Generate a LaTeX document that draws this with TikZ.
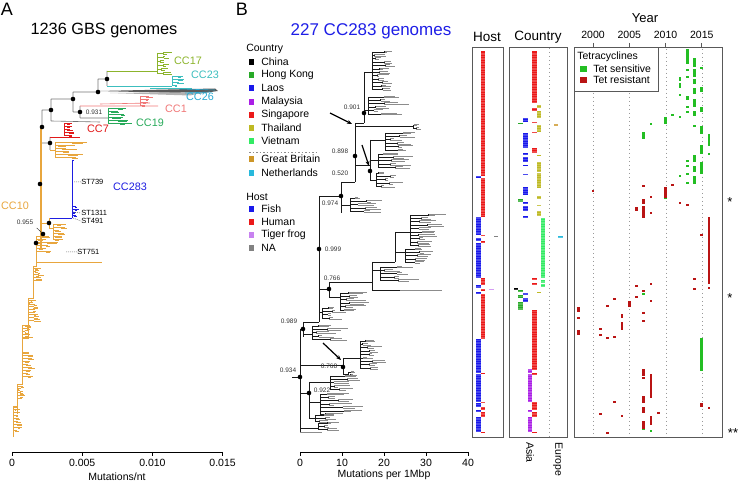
\documentclass[tikz,border=0pt]{standalone}
\usepackage{fontspec}
\setmainfont{Liberation Sans}
\usepackage{tikz}
\usetikzlibrary{arrows.meta}

\definecolor{cc10c}{RGB}{232,166,62}
\definecolor{cc17c}{RGB}{140,180,44}
\definecolor{cc23c}{RGB}{60,190,190}
\definecolor{cc26c}{RGB}{40,170,210}
\definecolor{cc1c}{RGB}{240,120,120}
\definecolor{cc19c}{RGB}{40,170,90}
\definecolor{cc7c}{RGB}{225,25,25}
\definecolor{cc283c}{RGB}{30,30,225}
\definecolor{titblue}{RGB}{30,30,230}
\definecolor{cChina}{RGB}{0,0,0}
\definecolor{cHK}{RGB}{40,170,40}
\definecolor{cLaos}{RGB}{25,25,235}
\definecolor{cMal}{RGB}{170,30,230}
\definecolor{cSin}{RGB}{235,25,25}
\definecolor{cTha}{RGB}{190,185,35}
\definecolor{cVie}{RGB}{50,235,100}
\definecolor{cGB}{RGB}{205,150,40}
\definecolor{cNL}{RGB}{40,185,220}
\definecolor{cFrog}{RGB}{200,130,240}
\definecolor{cNA}{RGB}{130,130,130}
\definecolor{tetS}{RGB}{35,190,35}
\definecolor{tetR}{RGB}{185,20,20}

\tikzset{
  trA/.style={black!55,line width=0.6pt},
  trB/.style={black!90,line width=0.6pt},
  tipB/.style={black!45,line width=0.6pt},
  ndot/.style={circle,fill=black,inner sep=0pt,minimum size=4.6pt},
  bsl/.style={font=\fontsize{6.5}{7}\selectfont,text=black!80},
  stlab/.style={font=\fontsize{7.5}{8}\selectfont,anchor=west,inner sep=0pt},
  cclab/.style={font=\fontsize{10.8}{12}\selectfont},
  lgtext/.style={anchor=west,inner sep=0pt},
  pbox/.style={draw=black!65,line width=0.8pt},
  ydot/.style={black!40,line width=0.6pt,dash pattern=on 0.8pt off 3.2pt},
  leader/.style={black!60,line width=0.5pt,dash pattern=on 1pt off 1pt}
}

% x, top, pairs, length, spacing, inner style, tip style
\newcommand{\tuft}[7]{%
  \draw[#6] (#1,{#2+0.5*#5}) -- (#1,{#2+(2*#3-1.5)*#5});
  \foreach \k in {1,...,#3}{%
    \pgfmathsetmacro{\ty}{#2+(2*\k-1.5)*#5}%
    \pgfmathsetmacro{\ta}{#1+(0.1+0.45*rnd)*#4}%
    \pgfmathsetmacro{\tb}{\ta+(0.1+0.45*rnd)*#4}%
    \pgfmathsetmacro{\tc}{\ta+(0.1+0.45*rnd)*#4}%
    \draw[#6] (#1,\ty) -- (\ta,\ty) (\ta,\ty-0.5*#5) -- (\ta,\ty+0.5*#5);
    \draw[#7] (\ta,\ty-0.5*#5) -- (\tb,\ty-0.5*#5) (\ta,\ty+0.5*#5) -- (\tc,\ty+0.5*#5);
  }}

\begin{document}
\begin{tikzpicture}[x=1pt,y=-1pt,line width=0.6pt,font=\fontsize{10.5}{12}\selectfont]
\useasboundingbox (0,0) rectangle (740,486);
\pgfmathsetseed{11}

%% ---------- panel A
\node (labA) at (7,9) {\fontsize{18}{18}\selectfont A};
\node (titA) at (104,31) {\fontsize{16.3}{18}\selectfont 1236 GBS genomes};

\draw[trA] (107,71) -- (107,86) (98,79) -- (107,79) (98,79) -- (98,92) (73,92) -- (98,92)
  (73,92) -- (73,112) (73,112) -- (80,112) (80,106) -- (80,118) (80,118) -- (108,118)
  (51,99) -- (73,99) (51,99) -- (51,121) (51,121) -- (100,122) (42,110) -- (51,110)
  (42,110) -- (42,127) (42,143) -- (50,143) (50,137) -- (50,150);
\draw[cc10c,line width=1.1pt] (41,127) -- (41,248);
\draw[cc17c] (107,71) -- (157,71);
\tuft{157}{52}{6}{16}{2}{cc17c}{cc17c}
\draw[cc23c] (107,86) -- (172,86) (150,88) -- (192,88);
\tuft{172}{76}{4}{14}{1.5}{cc23c}{cc23c}
\fill[black!65] (98,91) -- (215,88.5) -- (218,91) -- (200,93.5) -- cycle;
\fill[black!30] (110,93) -- (205,92) -- (190,95.5) -- cycle;
\draw[cc26c] (180,89) -- (215,90) (185,93) -- (210,92);
\draw[cc1c] (80,106) -- (158,106) (100,104) -- (150,103);
\tuft{140}{96}{4}{16}{1.5}{cc1c}{cc1c}
\tuft{108}{108}{6}{26}{1.5}{cc19c}{cc19c}
\draw[cc7c] (50,137) -- (80,137);
\tuft{64}{123}{5}{14}{1.5}{cc7c}{cc7c}
\draw[cc10c] (50,150) -- (55,150);
\tuft{55}{142}{6}{34}{1.5}{cc10c}{cc10c}
\draw[cc283c] (49,218) -- (72,218) (72,160) -- (72,218) (72,160) -- (74,160);
\tuft{72}{206}{4}{8}{1.5}{cc283c}{cc283c}
\draw[cc10c] (41,223) -- (49,223) (49,218) -- (49,228) (49,228) -- (53,228) (41,234) -- (45,234);
\tuft{53}{224}{6}{16}{1.5}{cc10c}{cc10c}
\draw[cc10c] (36,238) -- (36,266) -- (33,266) -- (33,298) -- (28,298) -- (28,338) -- (22,338)
  -- (22,384) -- (17,384) -- (17,412) -- (13,412) -- (13,437) (36,243) -- (41,243) (36,262) -- (102,262);
\tuft{36}{236}{6}{20}{1.5}{cc10c}{cc10c}
\tuft{33}{268}{5}{12}{1.4}{cc10c}{cc10c}
\tuft{28}{300}{8}{13}{1.4}{cc10c}{cc10c}
\tuft{22}{325}{5}{13}{1.4}{cc10c}{cc10c}
\tuft{22}{352}{9}{12}{1.5}{cc10c}{cc10c}
\tuft{17}{386}{5}{9}{1.4}{cc10c}{cc10c}
\tuft{13}{406}{9}{10}{1.5}{cc10c}{cc10c}

\foreach \px/\py [count=\i] in {107/79,98/92,73/99,51/110,80/112,42/127,50/143,40/184,49/223,43/234,36/243}
  \node[ndot] (na\i) at (\px,\py) {};
\node[bsl] (s931) at (94,112) {0.931};
\node[bsl] (s955) at (25,222) {0.955};
\draw[black!80,line width=0.5pt] (s955.south east) -- (na10);

\node[cclab,text=cc17c] (l17) at (188,61) {CC17};
\node[cclab,text=cc23c] (l23) at (205,75) {CC23};
\node[cclab,text=cc26c] (l26) at (200,97) {CC26};
\node[cclab,text=cc1c] (l1) at (176,109) {CC1};
\node[cclab,text=cc19c] (l19) at (150,123) {CC19};
\node[cclab,text=cc7c] (l7) at (98,129) {CC7};
\node[cclab,text=cc283c] (l283) at (130,187) {CC283};
\node[cclab,text=cc10c] (l10) at (15,206) {CC10};
\node[stlab] (st739) at (81,182) {ST739};
\node[stlab] (st1311) at (81,213) {ST1311};
\node[stlab] (st491) at (81,221) {ST491};
\node[stlab] (st751) at (77,252) {ST751};
\draw[leader] (74,182) -- (st739.west) (73,212) -- (st1311.west) (73,218) -- (st491.west) (66,252) -- (st751.west);

\draw[line width=0.8pt] (12,452) -- (223,452);
\foreach \tx/\tl [count=\i] in {12/0,82.2/0.005,152.4/0.010,222.6/0.015}{
  \draw[line width=0.8pt] (\tx,452) -- (\tx,456);
  \node (ta\i) at (\tx,463) {\tl};
}
\node (axA) at (117,477) {Mutations/nt};

%% ---------- panel B
\node (labB) at (242,9) {\fontsize{18}{18}\selectfont B};
\node[text=titblue] (titB) at (371,31) {\fontsize{17}{18}\selectfont 227 CC283 genomes};

\node[lgtext] (lgC) at (246,49) {Country};
\foreach \c/\t/\yy [count=\i] in {cChina/China/62,cHK/Hong Kong/75,cLaos/Laos/88,cMal/Malaysia/102,
    cSin/Singapore/115,cTha/Thailand/128,cVie/Vietnam/141,cGB/Great Britain/159,cNL/Netherlands/173}{
  \fill[\c] (249,\yy-2.6) rectangle (254.2,\yy+2.6);
  \node[lgtext] (lgc\i) at (261,\yy) {\t};
}
\draw[black!45,line width=0.5pt,dash pattern=on 1.5pt off 2pt] (249,152) -- (317,152);
\node[lgtext] (lgH) at (246,197) {Host};
\foreach \c/\t/\yy [count=\i] in {cLaos/Fish/209,cSin/Human/222,cFrog/Tiger frog/235,cNA/NA/248}{
  \fill[\c] (249,\yy-2.6) rectangle (254.2,\yy+2.6);
  \node[lgtext] (lgh\i) at (261,\yy) {\t};
}

% tree B
\draw[trB] (292,377) -- (300,377) (300,329) -- (300,432)
  (300,329) -- (303,329) (303,322) -- (303,337) (303,322) -- (319,322) (319,196) -- (319,322)
  (319,196) -- (341,196) (341,182) -- (341,213) (341,182) -- (355,182) (355,123) -- (355,182)
  (355,123) -- (364,123) (364,72) -- (364,123) (364,72) -- (372,72) (364,110) -- (368,110)
  (355,126) -- (413,126) (355,165) -- (370,165) (370,140) -- (370,180)
  (370,140) -- (385,140) (370,160) -- (378,160) (370,180) -- (376,180)
  (341,205) -- (350,205)
  (319,289) -- (329,289) (329,282) -- (329,297) (329,282) -- (372,282) (372,262) -- (372,290)
  (372,290) -- (400,290) (372,262) -- (395,262) (395,232) -- (395,262) (395,232) -- (410,232)
  (395,252) -- (405,252) (372,270) -- (380,270) (329,297) -- (340,297)
  (319,312) -- (322,312) (303,334) -- (312,334)
  (300,365) -- (343,365) (343,358) -- (343,374) (343,358) -- (360,358) (343,374) -- (348,374)
  (300,393) -- (309,393) (309,382) -- (309,418) (309,382) -- (330,382) (309,402) -- (320,402)
  (309,418) -- (315,418) (300,428) -- (318,428);
\draw[tipB] (400,290) -- (442,290) (300,432) -- (322,432);
\tuft{372}{51}{12}{24}{1.7}{trB}{tipB}
\tuft{368}{96}{6}{46}{1.7}{trB}{tipB}
\tuft{413}{124}{2}{14}{1.7}{trB}{tipB}
\tuft{385}{132}{6}{34}{1.7}{trB}{tipB}
\tuft{378}{153}{5}{38}{1.7}{trB}{tipB}
\tuft{376}{172}{5}{26}{1.7}{trB}{tipB}
\tuft{350}{197}{5}{34}{1.7}{trB}{tipB}
\tuft{410}{214}{10}{34}{1.7}{trB}{tipB}
\tuft{405}{248}{5}{30}{1.7}{trB}{tipB}
\tuft{380}{266}{5}{38}{1.7}{trB}{tipB}
\tuft{340}{292}{6}{38}{1.7}{trB}{tipB}
\tuft{322}{307}{4}{30}{1.7}{trB}{tipB}
\tuft{312}{325}{5}{38}{1.7}{trB}{tipB}
\tuft{360}{340}{9}{26}{1.7}{trB}{tipB}
\tuft{348}{371}{2}{10}{1.7}{trB}{tipB}
\tuft{330}{375}{5}{34}{1.7}{trB}{tipB}
\tuft{320}{393}{7}{44}{1.7}{trB}{tipB}
\tuft{315}{414}{3}{22}{1.7}{trB}{tipB}
\tuft{318}{422}{3}{22}{1.7}{trB}{tipB}

\foreach \px/\py [count=\i] in {364/113,355/156,370/171,341/196,319/249,329/289,303/329,343/367,300/377,309/393}
  \node[ndot] (nb\i) at (\px,\py) {};
\foreach \px/\py/\sv [count=\i] in {352/107/0.901,340/151/0.898,340/173/0.520,330/203/0.974,333/249/0.999,
    332/278/0.766,289/321/0.989,329/366/0.768,288/370/0.934,322/390/0.922}
  \node[bsl] (sb\i) at (\px,\py) {\sv};
\coordinate (ar1) at (330,113); \coordinate (ar2) at (362,145); \coordinate (ar3) at (323,343);
\coordinate (at1) at (352,124); \coordinate (at2) at (369,166); \coordinate (at3) at (341,360);
\foreach \i in {1,2,3}
  \draw[-{Stealth[length=5pt,width=4pt]},line width=1.2pt] (ar\i) -- (at\i);

\draw[line width=0.8pt] (300,452) -- (468,452);
\foreach \tv [count=\i] in {0,10,20,30,40}{
  \draw[line width=0.8pt] ({300+4.2*\tv},452) -- ({300+4.2*\tv},456);
  \node (tb\i) at ({300+4.2*\tv},463) {\tv};
}
\node (axB) at (384,475) {Mutations per 1Mbp};

%% ---------- host and country columns
\node (hHost) at (487,37) {\fontsize{13.5}{14}\selectfont Host};
\node (hCountry) at (538,37) {\fontsize{13.5}{14}\selectfont Country};
\foreach \ya/\yb in {51/176,178/217,235/236.5,241.5/243,278/285,289/291,294/339,373/374.5,402/403.5,407/410,412/417,432/433.5}
  \fill[cSin] (481,\ya) rectangle (485,\yb);
\foreach \ya/\yb in {176/178,217/235,238/241,243/278,285/288,292/294,339/373,374/402,403/407,410/412,417/432}
  \fill[cLaos] (476,\ya) rectangle (481,\yb);
\fill[cFrog] (489,289) rectangle (494,290.5);
\fill[cNA] (494,236) rectangle (498,237.5);
\foreach \ya/\yb in {51/103,108/111,122/123,132/133,148/153,278/280,283/285,310/370,373/375,402/410,412/417,432/433.5}
  \fill[cSin] (532,\ya) rectangle (537,\yb);
\foreach \ya/\yb in {105/108,111/118,125/132,155/156.5,162/172,173/188,196/199,205/206.5,211/216,292/293.5}
  \fill[cTha] (537,\ya) rectangle (541,\yb);
\foreach \ya/\yb in {118/122,133/148,153/155,157/162,165/166.5,174/175.5,187/195,202/204,206/211,216/218,293/295,298/302}
  \fill[cLaos] (523,\ya) rectangle (528,\yb);
\foreach \ya/\yb in {123/124.5,199/202,290/292,295/298,302/310}
  \fill[cHK] (518,\ya) rectangle (523,\yb);
\fill[cChina] (514,288) rectangle (518,289.6);
\foreach \ya/\yb in {218/278,280/283,284/287}
  \fill[cVie] (541,\ya) rectangle (545,\yb);
\foreach \ya/\yb in {369/373,374/402,410/412,417/432}
  \fill[cMal] (528,\ya) rectangle (532,\yb);
\fill[cGB] (554,124) rectangle (558,125.6);
\fill[cNL] (558,236.5) rectangle (563,238);
\foreach \r in {1,...,226}
  \draw[white,line width=0.2pt,opacity=0.22] (474,{51+1.69*\r}) -- (565,{51+1.69*\r});
\draw[ydot] (549,48) -- (549,437);
\draw[pbox] (472,47) rectangle (503,437);
\draw[pbox] (509,47) rectangle (567,437);
\node[rotate=-90,anchor=west,inner sep=0pt] (tAsia) at (530,442) {Asia};
\node[rotate=-90,anchor=west,inner sep=0pt] (tEur) at (558,442) {Europe};

%% ---------- year panel
\node (hYear) at (645,18) {\fontsize{13}{14}\selectfont Year};
\foreach \yv [count=\i] in {2000,2005,2010,2015}{
  \draw[black!65,line width=0.8pt] ({593+7.25*(\yv-2000)},43) -- ({593+7.25*(\yv-2000)},47);
  \node (yl\i) at ({593+7.25*(\yv-2000)},35) {\yv};
}
\foreach \yx in {593,629} \draw[ydot] (\yx,93) -- (\yx,437);
\foreach \yx in {666,702} \draw[ydot] (\yx,49) -- (\yx,437);
\foreach \yr/\ya/\yb in {2013/50/63,2013/70/70,2013/77/77,2013/97/99,2013/107/107,2013/112/112,2013/161/161,
    2013/166/166,2013/174/174,2013/183/183,2014/59/66,2014/70/76,2014/80/83,2014/89/93,2014/100/106,
    2014/112/115,2014/126/126,2014/156/161,2014/167/171,2014/177/183,2015/68/68,2015/88/91,2015/108/111,
    2015/127/133,2015/146/153,2015/163/173,2015/339/370,2012/78/80,2012/84/87,2012/95/95,2012/117/117,
    2012/176/176,2010/118/123,2010/198/198,2011/115/115,2008/124/124,2007/133/138,2007/294/294,
    2007/429/429,2008/431/431,2016/135/145,2016/154/154}
  \fill[tetS] ({593+7.25*(\yr-2000)-1.3},\ya-1) rectangle ({593+7.25*(\yr-2000)+1.3},\yb+1);
\foreach \yr/\ya/\yb in {2000/191/191,2007/186/186,2007/200/203,2007/207/212,2007/214/217,2007/291/291,
    2007/313/313,2007/321/321,2007/370/375,2007/378/378,2007/397/402,2007/408/412,2007/422/428,
    2010/188/197,2011/185/185,2008/197/197,2008/213/213,2008/284/284,2008/301/301,2008/375/397,
    2008/417/422,2008/424/424,2006/208/210,2006/286/286,2006/297/297,2012/203/203,2013/205/205,
    2016/218/283,2016/288/288,2016/408/408,2015/235/235,2015/404/406,2014/279/279,2014/289/289,
    2005/302/306,2003/299/299,2003/337/337,2003/402/402,2004/315/317,2004/323/329,2004/416/416,
    2002/306/306,2002/338/338,2002/433/433,1998/308/311,1998/318/318,1998/331/334,2001/329/329,
    2001/335/335,2001/414/414,2009/413/413}
  \fill[tetR] ({593+7.25*(\yr-2000)-1.3},\ya-1) rectangle ({593+7.25*(\yr-2000)+1.3},\yb+1);
\draw[pbox] (574,47) rectangle (722,437);
\draw[pbox,fill=white] (574,47) rectangle (658,91);
\node[lgtext] (lgT) at (577,57) {Tetracyclines};
\fill[tetS] (580,66) rectangle (587,72);
\node[lgtext] (lgT1) at (593,69) {Tet sensitive};
\fill[tetR] (580,77) rectangle (587,83);
\node[lgtext] (lgT2) at (593,80) {Tet resistant};
\node (star1) at (730,202) {\fontsize{13}{13}\selectfont *};
\node (star2) at (730,298) {\fontsize{13}{13}\selectfont *};
\node (star3) at (733,433) {\fontsize{13}{13}\selectfont **};
\end{tikzpicture}
\end{document}
